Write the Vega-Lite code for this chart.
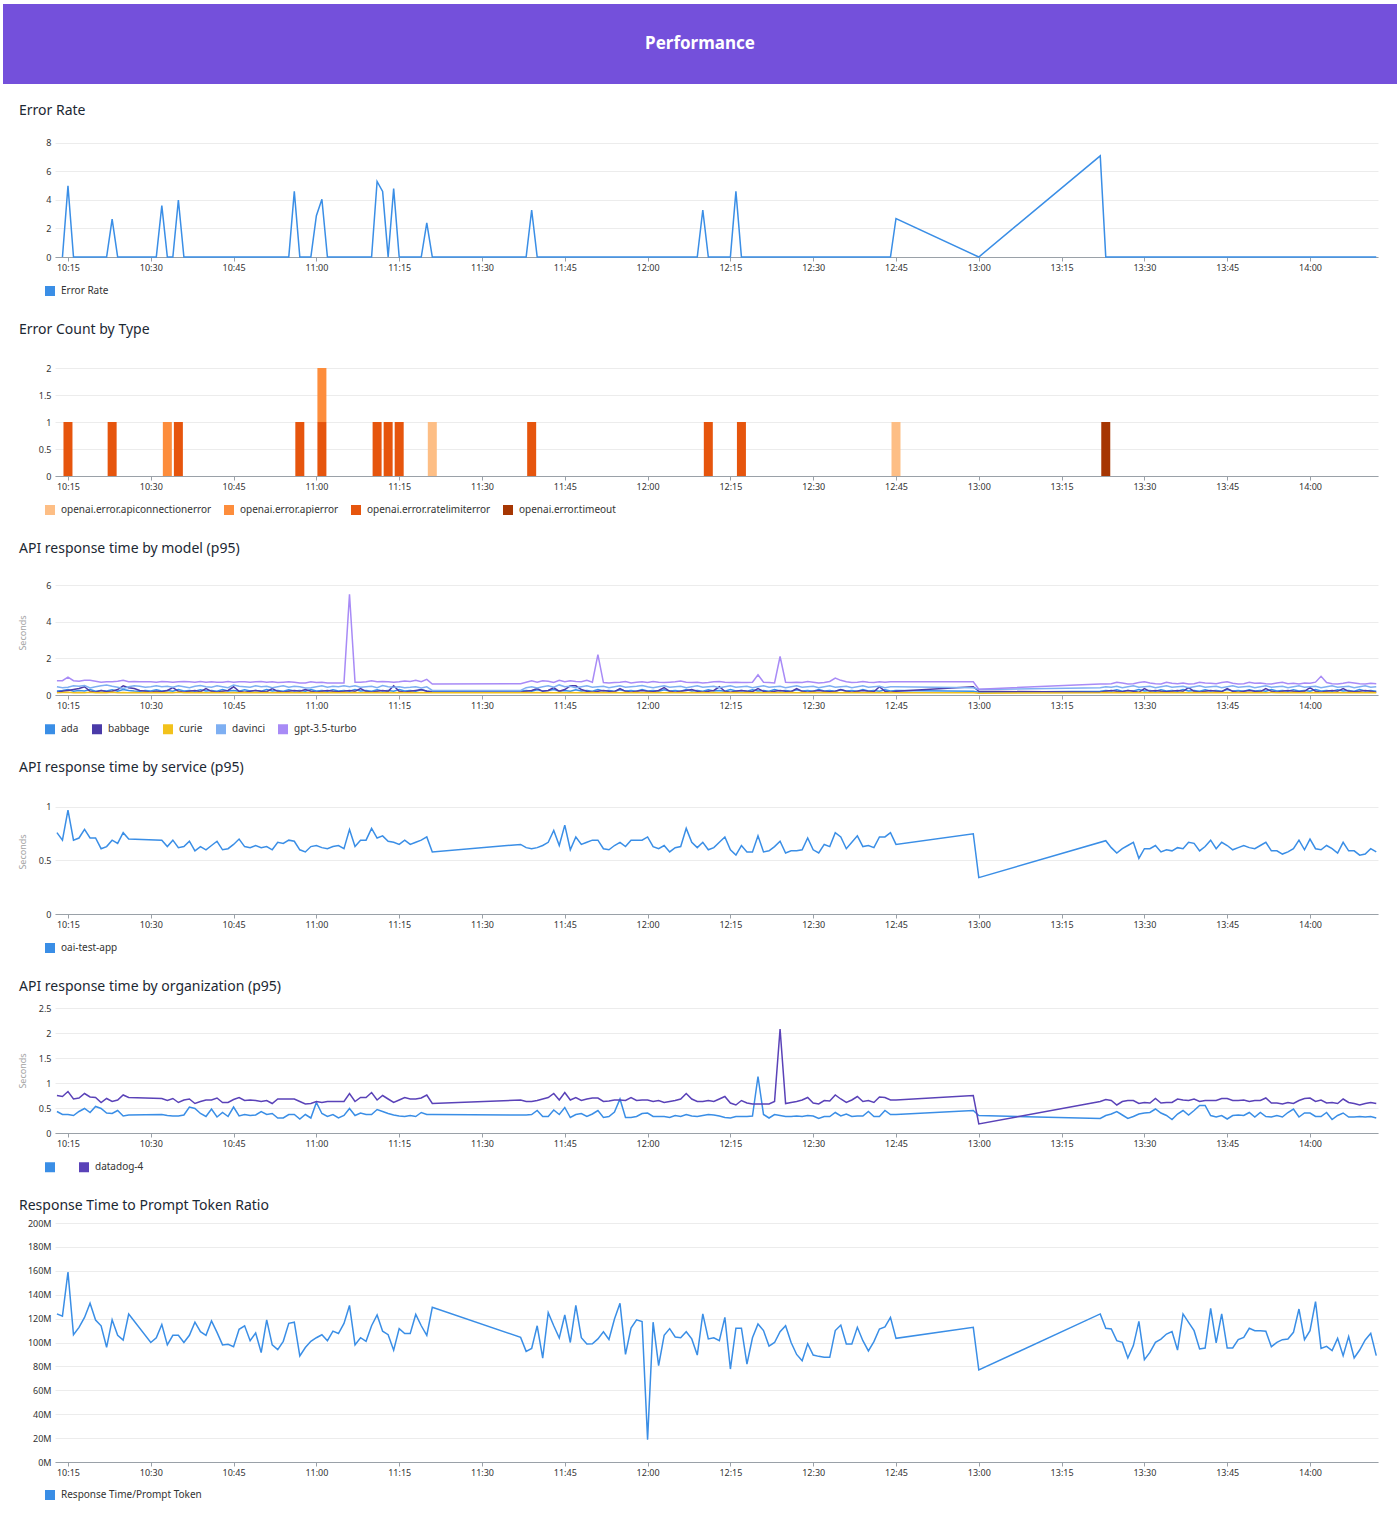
{
"$schema":"https://vega.github.io/schema/vega-lite/v6.json",
"background":"#ffffff",
"padding":{"left":3,"top":4,"right":3,"bottom":6},
"config":{
 "font":"Noto Sans",
 "view":{"stroke":null},
 "title":{"anchor":"start","frame":"group","fontSize":14,"fontWeight":"normal","color":"#1c2833","dx":-36,"offset":14,"baseline":"alphabetic"},
 "axis":{"labelFontSize":9,"labelColor":"#333333","gridColor":"#ececec","domain":false,"ticks":false},
 "axisX":{"domain":true,"domainColor":"#9aa1a8","ticks":true,"tickColor":"#9aa1a8","tickSize":4,"grid":false,"labelPadding":2},
 "axisY":{"labelPadding":4,"grid":true},
 "legend":{"labelFontSize":10,"labelColor":"#333333","symbolType":"square","columnPadding":15,"labelOffset":6,"padding":5}
},
"resolve":{"scale":{"color":"independent","x":"independent","y":"independent"},"legend":{"color":"independent"}},
"spacing":11,
"datasets":{
"er":[
{"t":"10:14","v":0},{"t":"10:15","v":5.0},{"t":"10:16","v":0},{"t":"10:22","v":0},{"t":"10:23","v":2.65},{"t":"10:24","v":0},
{"t":"10:31","v":0},{"t":"10:32","v":3.6},{"t":"10:33","v":0},{"t":"10:34","v":0},{"t":"10:35","v":4.0},{"t":"10:36","v":0},
{"t":"10:55","v":0},{"t":"10:56","v":4.6},{"t":"10:57","v":0},{"t":"10:59","v":0},{"t":"11:00","v":2.9},{"t":"11:01","v":4.05},{"t":"11:02","v":0},
{"t":"11:10","v":0},{"t":"11:11","v":5.3},{"t":"11:12","v":4.6},{"t":"11:13","v":0},{"t":"11:14","v":4.8},{"t":"11:15","v":0},
{"t":"11:19","v":0},{"t":"11:20","v":2.4},{"t":"11:21","v":0},{"t":"11:38","v":0},{"t":"11:39","v":3.3},{"t":"11:40","v":0},
{"t":"12:09","v":0},{"t":"12:10","v":3.3},{"t":"12:11","v":0},{"t":"12:15","v":0},{"t":"12:16","v":4.6},{"t":"12:17","v":0},
{"t":"12:44","v":0},{"t":"12:45","v":2.7},{"t":"13:00","v":0},{"t":"13:22","v":7.1},{"t":"13:23","v":0},{"t":"14:12","v":0}
],
"ec":[
{"t":"10:15","type":"openai.error.ratelimiterror","n":1},
{"t":"10:23","type":"openai.error.ratelimiterror","n":1},
{"t":"10:33","type":"openai.error.apierror","n":1},
{"t":"10:35","type":"openai.error.ratelimiterror","n":1},
{"t":"10:57","type":"openai.error.ratelimiterror","n":1},
{"t":"11:01","type":"openai.error.ratelimiterror","n":1},
{"t":"11:01","type":"openai.error.apierror","n":1},
{"t":"11:11","type":"openai.error.ratelimiterror","n":1},
{"t":"11:13","type":"openai.error.ratelimiterror","n":1},
{"t":"11:15","type":"openai.error.ratelimiterror","n":1},
{"t":"11:21","type":"openai.error.apiconnectionerror","n":1},
{"t":"11:39","type":"openai.error.ratelimiterror","n":1},
{"t":"12:11","type":"openai.error.ratelimiterror","n":1},
{"t":"12:17","type":"openai.error.ratelimiterror","n":1},
{"t":"12:45","type":"openai.error.apiconnectionerror","n":1},
{"t":"13:23","type":"openai.error.timeout","n":1}
],
"svc":[
{"t":"10:13","v":0.76},{"t":"10:14","v":0.69},{"t":"10:15","v":0.97},{"t":"10:16","v":0.69},{"t":"10:17","v":0.71},{"t":"10:18","v":0.79},{"t":"10:19","v":0.71},{"t":"10:20","v":0.71},{"t":"10:21","v":0.61},{"t":"10:22","v":0.63},{"t":"10:23","v":0.69},{"t":"10:24","v":0.66},{"t":"10:25","v":0.76},{"t":"10:26","v":0.70},
{"t":"10:32","v":0.69},{"t":"10:33","v":0.63},{"t":"10:34","v":0.69},{"t":"10:35","v":0.62},{"t":"10:36","v":0.63},{"t":"10:37","v":0.68},{"t":"10:38","v":0.59},{"t":"10:39","v":0.63},{"t":"10:40","v":0.60},{"t":"10:41","v":0.64},{"t":"10:42","v":0.68},{"t":"10:43","v":0.60},{"t":"10:44","v":0.61},{"t":"10:45","v":0.65},{"t":"10:46","v":0.70},{"t":"10:47","v":0.63},{"t":"10:48","v":0.62},{"t":"10:49","v":0.64},{"t":"10:50","v":0.62},{"t":"10:51","v":0.63},{"t":"10:52","v":0.60},{"t":"10:53","v":0.67},{"t":"10:54","v":0.66},{"t":"10:55","v":0.69},{"t":"10:56","v":0.68},{"t":"10:57","v":0.60},{"t":"10:58","v":0.58},{"t":"10:59","v":0.63},
{"t":"11:00","v":0.64},{"t":"11:01","v":0.62},{"t":"11:02","v":0.61},{"t":"11:03","v":0.63},{"t":"11:04","v":0.64},{"t":"11:05","v":0.61},{"t":"11:06","v":0.79},{"t":"11:07","v":0.63},{"t":"11:08","v":0.69},{"t":"11:09","v":0.69},{"t":"11:10","v":0.80},{"t":"11:11","v":0.71},{"t":"11:12","v":0.73},{"t":"11:13","v":0.68},{"t":"11:14","v":0.67},{"t":"11:15","v":0.65},{"t":"11:16","v":0.69},{"t":"11:17","v":0.65},{"t":"11:18","v":0.67},{"t":"11:19","v":0.69},{"t":"11:20","v":0.72},{"t":"11:21","v":0.58},
{"t":"11:37","v":0.65},{"t":"11:38","v":0.62},{"t":"11:39","v":0.61},{"t":"11:40","v":0.62},{"t":"11:41","v":0.64},{"t":"11:42","v":0.67},{"t":"11:43","v":0.78},{"t":"11:44","v":0.64},{"t":"11:45","v":0.83},{"t":"11:46","v":0.60},{"t":"11:47","v":0.72},{"t":"11:48","v":0.65},{"t":"11:49","v":0.67},{"t":"11:50","v":0.69},{"t":"11:51","v":0.69},{"t":"11:52","v":0.61},{"t":"11:53","v":0.60},{"t":"11:54","v":0.64},{"t":"11:55","v":0.67},{"t":"11:56","v":0.63},{"t":"11:57","v":0.69},{"t":"11:58","v":0.69},{"t":"11:59","v":0.69},
{"t":"12:00","v":0.72},{"t":"12:01","v":0.63},{"t":"12:02","v":0.61},{"t":"12:03","v":0.64},{"t":"12:04","v":0.58},{"t":"12:05","v":0.62},{"t":"12:06","v":0.63},{"t":"12:07","v":0.80},{"t":"12:08","v":0.67},{"t":"12:09","v":0.62},{"t":"12:10","v":0.67},{"t":"12:11","v":0.60},{"t":"12:12","v":0.62},{"t":"12:13","v":0.67},{"t":"12:14","v":0.72},{"t":"12:15","v":0.60},{"t":"12:16","v":0.55},{"t":"12:17","v":0.64},{"t":"12:18","v":0.58},{"t":"12:19","v":0.58},{"t":"12:20","v":0.73},{"t":"12:21","v":0.58},{"t":"12:22","v":0.59},{"t":"12:23","v":0.63},{"t":"12:24","v":0.68},{"t":"12:25","v":0.57},{"t":"12:26","v":0.59},{"t":"12:27","v":0.59},{"t":"12:28","v":0.60},{"t":"12:29","v":0.71},{"t":"12:30","v":0.60},{"t":"12:31","v":0.57},{"t":"12:32","v":0.65},{"t":"12:33","v":0.63},{"t":"12:34","v":0.76},{"t":"12:35","v":0.72},{"t":"12:36","v":0.61},{"t":"12:37","v":0.67},{"t":"12:38","v":0.73},{"t":"12:39","v":0.63},{"t":"12:40","v":0.64},{"t":"12:41","v":0.62},{"t":"12:42","v":0.72},{"t":"12:43","v":0.72},{"t":"12:44","v":0.76},{"t":"12:45","v":0.65},
{"t":"12:59","v":0.75},{"t":"13:00","v":0.34},
{"t":"13:23","v":0.685},{"t":"13:24","v":0.62},{"t":"13:25","v":0.57},{"t":"13:26","v":0.61},{"t":"13:27","v":0.64},{"t":"13:28","v":0.67},{"t":"13:29","v":0.52},{"t":"13:30","v":0.61},{"t":"13:31","v":0.61},{"t":"13:32","v":0.64},{"t":"13:33","v":0.58},{"t":"13:34","v":0.60},{"t":"13:35","v":0.59},{"t":"13:36","v":0.62},{"t":"13:37","v":0.61},{"t":"13:38","v":0.67},{"t":"13:39","v":0.66},{"t":"13:40","v":0.59},{"t":"13:41","v":0.63},{"t":"13:42","v":0.69},{"t":"13:43","v":0.61},{"t":"13:44","v":0.67},{"t":"13:45","v":0.64},{"t":"13:46","v":0.60},{"t":"13:47","v":0.62},{"t":"13:48","v":0.64},{"t":"13:49","v":0.62},{"t":"13:50","v":0.61},{"t":"13:51","v":0.64},{"t":"13:52","v":0.67},{"t":"13:53","v":0.59},{"t":"13:54","v":0.59},{"t":"13:55","v":0.56},{"t":"13:56","v":0.58},{"t":"13:57","v":0.61},{"t":"13:58","v":0.69},{"t":"13:59","v":0.60},{"t":"14:00","v":0.70},{"t":"14:01","v":0.61},{"t":"14:02","v":0.60},{"t":"14:03","v":0.64},{"t":"14:04","v":0.61},{"t":"14:05","v":0.57},{"t":"14:06","v":0.67},{"t":"14:07","v":0.59},{"t":"14:08","v":0.59},{"t":"14:09","v":0.55},{"t":"14:10","v":0.56},{"t":"14:11","v":0.61},{"t":"14:12","v":0.58}
],
"ratio":[
{"t":"10:13","v":124e6},{"t":"10:14","v":122e6},{"t":"10:15","v":159e6},{"t":"10:16","v":106.5e6},{"t":"10:17","v":112.7e6},{"t":"10:18","v":121e6},{"t":"10:19","v":132.8e6},{"t":"10:20","v":118.8e6},{"t":"10:21","v":114e6},{"t":"10:22","v":96e6},{"t":"10:23","v":119e6},{"t":"10:24","v":106e6},{"t":"10:25","v":102e6},{"t":"10:26","v":123.8e6},
{"t":"10:30","v":100e6},{"t":"10:31","v":104e6},{"t":"10:32","v":115e6},{"t":"10:33","v":98e6},{"t":"10:34","v":106e6},{"t":"10:35","v":106e6},{"t":"10:36","v":100e6},{"t":"10:37","v":106e6},{"t":"10:38","v":117e6},{"t":"10:39","v":109e6},{"t":"10:40","v":106e6},{"t":"10:41","v":118e6},{"t":"10:42","v":108.5e6},{"t":"10:43","v":98e6},{"t":"10:44","v":98.5e6},{"t":"10:45","v":96.5e6},{"t":"10:46","v":111e6},{"t":"10:47","v":114e6},{"t":"10:48","v":101.5e6},{"t":"10:49","v":108e6},{"t":"10:50","v":91.6e6},{"t":"10:51","v":119e6},{"t":"10:52","v":98e6},{"t":"10:53","v":94e6},{"t":"10:54","v":101e6},{"t":"10:55","v":116e6},{"t":"10:56","v":117e6},{"t":"10:57","v":88.8e6},{"t":"10:58","v":95.8e6},{"t":"10:59","v":101e6},
{"t":"11:00","v":104e6},{"t":"11:01","v":106.5e6},{"t":"11:02","v":101.5e6},{"t":"11:03","v":109.5e6},{"t":"11:04","v":107.5e6},{"t":"11:05","v":116e6},{"t":"11:06","v":131e6},{"t":"11:07","v":98e6},{"t":"11:08","v":104e6},{"t":"11:09","v":101e6},{"t":"11:10","v":114e6},{"t":"11:11","v":123e6},{"t":"11:12","v":109.5e6},{"t":"11:13","v":106.5e6},{"t":"11:14","v":93.5e6},{"t":"11:15","v":111.6e6},{"t":"11:16","v":107.5e6},{"t":"11:17","v":107.5e6},{"t":"11:18","v":123.5e6},{"t":"11:19","v":114e6},{"t":"11:20","v":106e6},{"t":"11:21","v":129.5e6},
{"t":"11:37","v":104.3e6},{"t":"11:38","v":92.6e6},{"t":"11:39","v":95e6},{"t":"11:40","v":114e6},{"t":"11:41","v":87e6},{"t":"11:42","v":125e6},{"t":"11:43","v":114e6},{"t":"11:44","v":103.8e6},{"t":"11:45","v":123e6},{"t":"11:46","v":100e6},{"t":"11:47","v":131e6},{"t":"11:48","v":104e6},{"t":"11:49","v":98.7e6},{"t":"11:50","v":99e6},{"t":"11:51","v":103e6},{"t":"11:52","v":109e6},{"t":"11:53","v":102.5e6},{"t":"11:54","v":119.7e6},{"t":"11:55","v":132.8e6},{"t":"11:56","v":90e6},{"t":"11:57","v":112e6},{"t":"11:58","v":119e6},{"t":"11:59","v":117.5e6},
{"t":"12:00","v":18.7e6},{"t":"12:01","v":117e6},{"t":"12:02","v":80.6e6},{"t":"12:03","v":106e6},{"t":"12:04","v":111.6e6},{"t":"12:05","v":104.6e6},{"t":"12:06","v":104e6},{"t":"12:07","v":109e6},{"t":"12:08","v":103e6},{"t":"12:09","v":89.5e6},{"t":"12:10","v":124e6},{"t":"12:11","v":103e6},{"t":"12:12","v":104e6},{"t":"12:13","v":101.5e6},{"t":"12:14","v":121e6},{"t":"12:15","v":77.8e6},{"t":"12:16","v":112e6},{"t":"12:17","v":112e6},{"t":"12:18","v":82e6},{"t":"12:19","v":104e6},{"t":"12:20","v":115.5e6},{"t":"12:21","v":110e6},{"t":"12:22","v":97e6},{"t":"12:23","v":100e6},{"t":"12:24","v":109e6},{"t":"12:25","v":114e6},{"t":"12:26","v":100e6},{"t":"12:27","v":90e6},{"t":"12:28","v":84.8e6},{"t":"12:29","v":99e6},{"t":"12:30","v":89.5e6},{"t":"12:31","v":88.4e6},{"t":"12:32","v":87.6e6},{"t":"12:33","v":87.6e6},{"t":"12:34","v":110e6},{"t":"12:35","v":114.6e6},{"t":"12:36","v":98.8e6},{"t":"12:37","v":98.8e6},{"t":"12:38","v":112.7e6},{"t":"12:39","v":101.5e6},{"t":"12:40","v":93e6},{"t":"12:41","v":100.7e6},{"t":"12:42","v":111.3e6},{"t":"12:43","v":113e6},{"t":"12:44","v":121e6},{"t":"12:45","v":103.5e6},
{"t":"12:59","v":112.7e6},{"t":"13:00","v":77e6},
{"t":"13:22","v":123.9e6},{"t":"13:23","v":111.9e6},{"t":"13:24","v":111.3e6},{"t":"13:25","v":101.6e6},{"t":"13:26","v":100.1e6},{"t":"13:27","v":87e6},{"t":"13:28","v":97.4e6},{"t":"13:29","v":117.7e6},{"t":"13:30","v":85.6e6},{"t":"13:31","v":91.7e6},{"t":"13:32","v":100.1e6},{"t":"13:33","v":102.9e6},{"t":"13:34","v":107.1e6},{"t":"13:35","v":109.1e6},{"t":"13:36","v":93.7e6},{"t":"13:37","v":123.9e6},{"t":"13:38","v":116.9e6},{"t":"13:39","v":109.9e6},{"t":"13:40","v":94.6e6},{"t":"13:41","v":95.4e6},{"t":"13:42","v":128.6e6},{"t":"13:43","v":99.6e6},{"t":"13:44","v":123.9e6},{"t":"13:45","v":95.4e6},{"t":"13:46","v":95.4e6},{"t":"13:47","v":102.4e6},{"t":"13:48","v":104.3e6},{"t":"13:49","v":111.9e6},{"t":"13:50","v":109.9e6},{"t":"13:51","v":109.9e6},{"t":"13:52","v":109.4e6},{"t":"13:53","v":96.5e6},{"t":"13:54","v":100.1e6},{"t":"13:55","v":102.4e6},{"t":"13:56","v":102.9e6},{"t":"13:57","v":108.5e6},{"t":"13:58","v":128e6},{"t":"13:59","v":102.4e6},{"t":"14:00","v":109.9e6},{"t":"14:01","v":134.2e6},{"t":"14:02","v":95.1e6},{"t":"14:03","v":96.8e6},{"t":"14:04","v":93.2e6},{"t":"14:05","v":103.5e6},{"t":"14:06","v":89e6},{"t":"14:07","v":104.9e6},{"t":"14:08","v":87e6},{"t":"14:09","v":93.7e6},{"t":"14:10","v":102.1e6},{"t":"14:11","v":107.7e6},{"t":"14:12","v":89e6}
],
"org":[
{"t":"10:13","ob":0.43,"op":0.75},{"t":"10:14","ob":0.37,"op":0.73},{"t":"10:15","ob":0.37,"op":0.83},{"t":"10:16","ob":0.35,"op":0.68},{"t":"10:17","ob":0.43,"op":0.70},{"t":"10:18","ob":0.49,"op":0.79},{"t":"10:19","ob":0.41,"op":0.72},{"t":"10:20","ob":0.53,"op":0.71},{"t":"10:21","ob":0.49,"op":0.61},{"t":"10:22","ob":0.40,"op":0.69},{"t":"10:23","ob":0.39,"op":0.63},{"t":"10:24","ob":0.45,"op":0.66},{"t":"10:25","ob":0.34,"op":0.76},{"t":"10:26","ob":0.36,"op":0.71},
{"t":"10:32","ob":0.37,"op":0.69},{"t":"10:33","ob":0.35,"op":0.65},{"t":"10:34","ob":0.34,"op":0.69},{"t":"10:35","ob":0.34,"op":0.61},{"t":"10:36","ob":0.36,"op":0.66},{"t":"10:37","ob":0.52,"op":0.68},{"t":"10:38","ob":0.49,"op":0.59},{"t":"10:39","ob":0.39,"op":0.63},{"t":"10:40","ob":0.33,"op":0.66},{"t":"10:41","ob":0.48,"op":0.66},{"t":"10:42","ob":0.32,"op":0.70},{"t":"10:43","ob":0.41,"op":0.61},{"t":"10:44","ob":0.33,"op":0.61},{"t":"10:45","ob":0.52,"op":0.67},{"t":"10:46","ob":0.34,"op":0.71},{"t":"10:47","ob":0.37,"op":0.65},{"t":"10:48","ob":0.35,"op":0.66},{"t":"10:49","ob":0.36,"op":0.65},{"t":"10:50","ob":0.43,"op":0.63},{"t":"10:51","ob":0.37,"op":0.65},{"t":"10:52","ob":0.39,"op":0.59},{"t":"10:53","ob":0.30,"op":0.68},{"t":"10:54","ob":0.30,"op":0.68},{"t":"10:55","ob":0.37,"op":0.68},{"t":"10:56","ob":0.37,"op":0.68},{"t":"10:57","ob":0.28,"op":0.63},{"t":"10:58","ob":0.37,"op":0.58},{"t":"10:59","ob":0.30,"op":0.59},
{"t":"11:00","ob":0.61,"op":0.63},{"t":"11:01","ob":0.39,"op":0.61},{"t":"11:02","ob":0.33,"op":0.63},{"t":"11:03","ob":0.37,"op":0.63},{"t":"11:04","ob":0.30,"op":0.63},{"t":"11:05","ob":0.35,"op":0.63},{"t":"11:06","ob":0.49,"op":0.79},{"t":"11:07","ob":0.35,"op":0.63},{"t":"11:08","ob":0.40,"op":0.71},{"t":"11:09","ob":0.37,"op":0.71},{"t":"11:10","ob":0.37,"op":0.81},{"t":"11:11","ob":0.47,"op":0.66},{"t":"11:12","ob":0.43,"op":0.75},{"t":"11:13","ob":0.39,"op":0.68},{"t":"11:14","ob":0.36,"op":0.61},{"t":"11:15","ob":0.34,"op":0.66},{"t":"11:16","ob":0.33,"op":0.71},{"t":"11:17","ob":0.35,"op":0.68},{"t":"11:18","ob":0.33,"op":0.68},{"t":"11:19","ob":0.41,"op":0.70},{"t":"11:20","ob":0.37,"op":0.76},{"t":"11:21","ob":0.37,"op":0.59},
{"t":"11:37","ob":0.36,"op":0.66},{"t":"11:38","ob":0.36,"op":0.63},{"t":"11:39","ob":0.37,"op":0.63},{"t":"11:40","ob":0.45,"op":0.65},{"t":"11:41","ob":0.33,"op":0.68},{"t":"11:42","ob":0.33,"op":0.71},{"t":"11:43","ob":0.46,"op":0.79},{"t":"11:44","ob":0.37,"op":0.66},{"t":"11:45","ob":0.51,"op":0.81},{"t":"11:46","ob":0.31,"op":0.66},{"t":"11:47","ob":0.37,"op":0.71},{"t":"11:48","ob":0.39,"op":0.65},{"t":"11:49","ob":0.33,"op":0.68},{"t":"11:50","ob":0.38,"op":0.70},{"t":"11:51","ob":0.45,"op":0.70},{"t":"11:52","ob":0.31,"op":0.63},{"t":"11:53","ob":0.33,"op":0.64},{"t":"11:54","ob":0.42,"op":0.66},{"t":"11:55","ob":0.68,"op":0.66},{"t":"11:56","ob":0.31,"op":0.65},{"t":"11:57","ob":0.31,"op":0.71},{"t":"11:58","ob":0.33,"op":0.65},{"t":"11:59","ob":0.39,"op":0.66},
{"t":"12:00","ob":0.40,"op":0.66},{"t":"12:01","ob":0.33,"op":0.63},{"t":"12:02","ob":0.33,"op":0.65},{"t":"12:03","ob":0.33,"op":0.61},{"t":"12:04","ob":0.31,"op":0.63},{"t":"12:05","ob":0.35,"op":0.65},{"t":"12:06","ob":0.33,"op":0.68},{"t":"12:07","ob":0.37,"op":0.79},{"t":"12:08","ob":0.34,"op":0.68},{"t":"12:09","ob":0.33,"op":0.63},{"t":"12:10","ob":0.35,"op":0.63},{"t":"12:11","ob":0.37,"op":0.65},{"t":"12:12","ob":0.36,"op":0.63},{"t":"12:13","ob":0.34,"op":0.68},{"t":"12:14","ob":0.31,"op":0.73},{"t":"12:15","ob":0.30,"op":0.60},{"t":"12:16","ob":0.33,"op":0.56},{"t":"12:17","ob":0.33,"op":0.65},{"t":"12:18","ob":0.33,"op":0.60},{"t":"12:19","ob":0.34,"op":0.58},{"t":"12:20","ob":1.13,"op":0.58},{"t":"12:21","ob":0.37,"op":0.58},{"t":"12:22","ob":0.30,"op":0.58},{"t":"12:23","ob":0.37,"op":0.63},{"t":"12:24","ob":0.35,"op":2.08},{"t":"12:25","ob":0.33,"op":0.59},{"t":"12:26","ob":0.33,"op":0.61},{"t":"12:27","ob":0.34,"op":0.63},{"t":"12:28","ob":0.33,"op":0.66},{"t":"12:29","ob":0.35,"op":0.71},{"t":"12:30","ob":0.34,"op":0.60},{"t":"12:31","ob":0.29,"op":0.58},{"t":"12:32","ob":0.33,"op":0.65},{"t":"12:33","ob":0.33,"op":0.64},{"t":"12:34","ob":0.41,"op":0.76},{"t":"12:35","ob":0.34,"op":0.68},{"t":"12:36","ob":0.38,"op":0.61},{"t":"12:37","ob":0.33,"op":0.66},{"t":"12:38","ob":0.34,"op":0.73},{"t":"12:39","ob":0.34,"op":0.63},{"t":"12:40","ob":0.43,"op":0.65},{"t":"12:41","ob":0.33,"op":0.61},{"t":"12:42","ob":0.33,"op":0.72},{"t":"12:43","ob":0.45,"op":0.71},{"t":"12:44","ob":0.37,"op":0.66},{"t":"12:45","ob":0.37,"op":0.66},
{"t":"12:59","ob":0.45,"op":0.75},{"t":"13:00","ob":0.35,"op":0.18},
{"t":"13:22","ob":0.29,"op":0.63},{"t":"13:23","ob":0.35,"op":0.67},{"t":"13:24","ob":0.38,"op":0.65},{"t":"13:25","ob":0.43,"op":0.56},{"t":"13:26","ob":0.36,"op":0.63},{"t":"13:27","ob":0.29,"op":0.65},{"t":"13:28","ob":0.33,"op":0.65},{"t":"13:29","ob":0.38,"op":0.59},{"t":"13:30","ob":0.40,"op":0.61},{"t":"13:31","ob":0.41,"op":0.60},{"t":"13:32","ob":0.48,"op":0.69},{"t":"13:33","ob":0.40,"op":0.60},{"t":"13:34","ob":0.35,"op":0.61},{"t":"13:35","ob":0.27,"op":0.61},{"t":"13:36","ob":0.38,"op":0.68},{"t":"13:37","ob":0.45,"op":0.66},{"t":"13:38","ob":0.36,"op":0.65},{"t":"13:39","ob":0.45,"op":0.68},{"t":"13:40","ob":0.55,"op":0.63},{"t":"13:41","ob":0.55,"op":0.65},{"t":"13:42","ob":0.35,"op":0.65},{"t":"13:43","ob":0.32,"op":0.65},{"t":"13:44","ob":0.35,"op":0.69},{"t":"13:45","ob":0.28,"op":0.69},{"t":"13:46","ob":0.35,"op":0.65},{"t":"13:47","ob":0.36,"op":0.65},{"t":"13:48","ob":0.35,"op":0.66},{"t":"13:49","ob":0.41,"op":0.63},{"t":"13:50","ob":0.32,"op":0.65},{"t":"13:51","ob":0.41,"op":0.65},{"t":"13:52","ob":0.33,"op":0.70},{"t":"13:53","ob":0.32,"op":0.60},{"t":"13:54","ob":0.35,"op":0.60},{"t":"13:55","ob":0.32,"op":0.58},{"t":"13:56","ob":0.41,"op":0.61},{"t":"13:57","ob":0.48,"op":0.59},{"t":"13:58","ob":0.32,"op":0.65},{"t":"13:59","ob":0.40,"op":0.69},{"t":"14:00","ob":0.40,"op":0.70},{"t":"14:01","ob":0.33,"op":0.63},{"t":"14:02","ob":0.33,"op":0.66},{"t":"14:03","ob":0.41,"op":0.60},{"t":"14:04","ob":0.27,"op":0.61},{"t":"14:05","ob":0.35,"op":0.59},{"t":"14:06","ob":0.40,"op":0.68},{"t":"14:07","ob":0.32,"op":0.61},{"t":"14:08","ob":0.32,"op":0.59},{"t":"14:09","ob":0.33,"op":0.56},{"t":"14:10","ob":0.32,"op":0.59},{"t":"14:11","ob":0.33,"op":0.61},{"t":"14:12","ob":0.30,"op":0.59}
],
"model":[
{"t":"10:13","a":0.22,"b":0.15,"c":0.12,"d":0.45,"g":0.78},{"t":"10:14","a":0.25,"b":0.2,"c":0.13,"d":0.4,"g":0.78},{"t":"10:15","a":0.3,"b":0.25,"c":0.15,"d":0.42,"g":0.98},{"t":"10:16","a":0.2,"b":0.3,"c":0.12,"d":0.5,"g":0.78},{"t":"10:17","a":0.25,"b":0.35,"c":0.14,"d":0.48,"g":0.75},{"t":"10:18","a":0.22,"b":0.45,"c":0.12,"d":0.52,"g":0.8},{"t":"10:19","a":0.3,"b":0.2,"c":0.15,"d":0.38,"g":0.8},{"t":"10:20","a":0.2,"b":0.15,"c":0.12,"d":0.45,"g":0.75},{"t":"10:21","a":0.25,"b":0.25,"c":0.13,"d":0.5,"g":0.7},{"t":"10:22","a":0.22,"b":0.18,"c":0.12,"d":0.55,"g":0.72},{"t":"10:23","a":0.28,"b":0.2,"c":0.15,"d":0.48,"g":0.72},{"t":"10:24","a":0.2,"b":0.3,"c":0.12,"d":0.42,"g":0.75},{"t":"10:25","a":0.3,"b":0.5,"c":0.14,"d":0.35,"g":0.8},{"t":"10:26","a":0.25,"b":0.4,"c":0.12,"d":0.45,"g":0.72},{"t":"10:27","a":0.22,"b":0.35,"c":0.13,"d":0.5,"g":0.74},{"t":"10:28","a":0.2,"b":0.25,"c":0.12,"d":0.48,"g":0.72},{"t":"10:29","a":0.25,"b":0.2,"c":0.14,"d":0.42,"g":0.72},{"t":"10:30","a":0.22,"b":0.15,"c":0.12,"d":0.45,"g":0.72},{"t":"10:31","a":0.28,"b":0.2,"c":0.13,"d":0.5,"g":0.7},{"t":"10:32","a":0.22,"b":0.18,"c":0.12,"d":0.45,"g":0.74},{"t":"10:33","a":0.25,"b":0.25,"c":0.14,"d":0.48,"g":0.72},{"t":"10:34","a":0.2,"b":0.4,"c":0.12,"d":0.42,"g":0.7},{"t":"10:35","a":0.3,"b":0.2,"c":0.15,"d":0.5,"g":0.72},{"t":"10:36","a":0.22,"b":0.15,"c":0.12,"d":0.45,"g":0.74},{"t":"10:37","a":0.25,"b":0.2,"c":0.13,"d":0.4,"g":0.72},{"t":"10:38","a":0.2,"b":0.25,"c":0.12,"d":0.48,"g":0.7},{"t":"10:39","a":0.28,"b":0.18,"c":0.14,"d":0.52,"g":0.74},{"t":"10:40","a":0.22,"b":0.35,"c":0.12,"d":0.45,"g":0.7},{"t":"10:41","a":0.25,"b":0.2,"c":0.13,"d":0.42,"g":0.72},{"t":"10:42","a":0.2,"b":0.15,"c":0.12,"d":0.5,"g":0.7},{"t":"10:43","a":0.3,"b":0.2,"c":0.14,"d":0.45,"g":0.7},{"t":"10:44","a":0.22,"b":0.25,"c":0.12,"d":0.4,"g":0.74},{"t":"10:45","a":0.25,"b":0.45,"c":0.13,"d":0.55,"g":0.7},{"t":"10:46","a":0.2,"b":0.2,"c":0.12,"d":0.48,"g":0.72},{"t":"10:47","a":0.28,"b":0.15,"c":0.14,"d":0.45,"g":0.72},{"t":"10:48","a":0.22,"b":0.2,"c":0.12,"d":0.42,"g":0.7},{"t":"10:49","a":0.25,"b":0.25,"c":0.13,"d":0.5,"g":0.72},{"t":"10:50","a":0.2,"b":0.2,"c":0.12,"d":0.45,"g":0.74},{"t":"10:51","a":0.3,"b":0.18,"c":0.14,"d":0.48,"g":0.7},{"t":"10:52","a":0.22,"b":0.35,"c":0.12,"d":0.4,"g":0.72},{"t":"10:53","a":0.25,"b":0.2,"c":0.13,"d":0.45,"g":0.68},{"t":"10:54","a":0.2,"b":0.15,"c":0.12,"d":0.5,"g":0.7},{"t":"10:55","a":0.28,"b":0.2,"c":0.14,"d":0.42,"g":0.72},{"t":"10:56","a":0.22,"b":0.25,"c":0.12,"d":0.48,"g":0.7},{"t":"10:57","a":0.25,"b":0.2,"c":0.13,"d":0.45,"g":0.66},{"t":"10:58","a":0.2,"b":0.3,"c":0.12,"d":0.38,"g":0.65},{"t":"10:59","a":0.3,"b":0.2,"c":0.14,"d":0.4,"g":0.72},
{"t":"11:00","a":0.22,"b":0.15,"c":0.12,"d":0.45,"g":0.68},{"t":"11:01","a":0.25,"b":0.2,"c":0.13,"d":0.5,"g":0.7},{"t":"11:02","a":0.2,"b":0.25,"c":0.12,"d":0.42,"g":0.66},{"t":"11:03","a":0.28,"b":0.2,"c":0.14,"d":0.48,"g":0.66},{"t":"11:04","a":0.22,"b":0.18,"c":0.12,"d":0.45,"g":0.66},{"t":"11:05","a":0.25,"b":0.2,"c":0.13,"d":0.5,"g":0.66},{"t":"11:06","a":0.2,"b":0.25,"c":0.12,"d":0.45,"g":5.5},{"t":"11:07","a":0.3,"b":0.2,"c":0.14,"d":0.5,"g":0.7},{"t":"11:08","a":0.22,"b":0.35,"c":0.12,"d":0.42,"g":0.7},{"t":"11:09","a":0.25,"b":0.2,"c":0.13,"d":0.45,"g":0.72},{"t":"11:10","a":0.2,"b":0.15,"c":0.12,"d":0.48,"g":0.78},{"t":"11:11","a":0.28,"b":0.2,"c":0.14,"d":0.4,"g":0.72},{"t":"11:12","a":0.22,"b":0.25,"c":0.12,"d":0.52,"g":0.74},{"t":"11:13","a":0.25,"b":0.2,"c":0.13,"d":0.45,"g":0.72},{"t":"11:14","a":0.2,"b":0.5,"c":0.12,"d":0.42,"g":0.7},{"t":"11:15","a":0.3,"b":0.2,"c":0.14,"d":0.45,"g":0.72},{"t":"11:16","a":0.22,"b":0.15,"c":0.12,"d":0.4,"g":0.76},{"t":"11:17","a":0.25,"b":0.2,"c":0.13,"d":0.42,"g":0.74},{"t":"11:18","a":0.2,"b":0.25,"c":0.12,"d":0.45,"g":0.8},{"t":"11:19","a":0.28,"b":0.3,"c":0.14,"d":0.38,"g":0.72},{"t":"11:20","a":0.22,"b":0.2,"c":0.12,"d":0.45,"g":0.85},{"t":"11:21","a":0.2,"b":0.15,"c":0.12,"d":0.25,"g":0.6},
{"t":"11:37","a":0.22,"b":0.15,"c":0.12,"d":0.25,"g":0.62},{"t":"11:38","a":0.25,"b":0.2,"c":0.14,"d":0.4,"g":0.7},{"t":"11:39","a":0.2,"b":0.25,"c":0.12,"d":0.45,"g":0.78},{"t":"11:40","a":0.28,"b":0.35,"c":0.13,"d":0.38,"g":0.7},{"t":"11:41","a":0.22,"b":0.2,"c":0.12,"d":0.45,"g":0.78},{"t":"11:42","a":0.25,"b":0.25,"c":0.14,"d":0.5,"g":0.75},{"t":"11:43","a":0.3,"b":0.4,"c":0.12,"d":0.42,"g":0.68},{"t":"11:44","a":0.22,"b":0.2,"c":0.13,"d":0.55,"g":0.8},{"t":"11:45","a":0.25,"b":0.3,"c":0.12,"d":0.45,"g":0.72},{"t":"11:46","a":0.2,"b":0.5,"c":0.14,"d":0.48,"g":0.78},{"t":"11:47","a":0.28,"b":0.5,"c":0.12,"d":0.4,"g":0.74},{"t":"11:48","a":0.22,"b":0.3,"c":0.13,"d":0.45,"g":0.72},{"t":"11:49","a":0.25,"b":0.2,"c":0.12,"d":0.5,"g":0.8},{"t":"11:50","a":0.2,"b":0.15,"c":0.14,"d":0.42,"g":0.7},{"t":"11:51","a":0.3,"b":0.2,"c":0.12,"d":0.45,"g":2.2},{"t":"11:52","a":0.22,"b":0.25,"c":0.13,"d":0.48,"g":0.68},{"t":"11:53","a":0.25,"b":0.2,"c":0.12,"d":0.4,"g":0.65},{"t":"11:54","a":0.2,"b":0.18,"c":0.14,"d":0.45,"g":0.68},{"t":"11:55","a":0.28,"b":0.35,"c":0.12,"d":0.5,"g":0.7},{"t":"11:56","a":0.22,"b":0.2,"c":0.13,"d":0.42,"g":0.74},{"t":"11:57","a":0.25,"b":0.15,"c":0.12,"d":0.45,"g":0.66},{"t":"11:58","a":0.2,"b":0.2,"c":0.14,"d":0.48,"g":0.7},{"t":"11:59","a":0.3,"b":0.25,"c":0.12,"d":0.52,"g":0.72},
{"t":"12:00","a":0.22,"b":0.2,"c":0.13,"d":0.45,"g":0.68},{"t":"12:01","a":0.25,"b":0.18,"c":0.12,"d":0.4,"g":0.74},{"t":"12:02","a":0.2,"b":0.25,"c":0.14,"d":0.45,"g":0.7},{"t":"12:03","a":0.28,"b":0.4,"c":0.12,"d":0.5,"g":0.68},{"t":"12:04","a":0.22,"b":0.2,"c":0.13,"d":0.42,"g":0.7},{"t":"12:05","a":0.25,"b":0.15,"c":0.12,"d":0.45,"g":0.72},{"t":"12:06","a":0.2,"b":0.2,"c":0.14,"d":0.48,"g":0.76},{"t":"12:07","a":0.3,"b":0.25,"c":0.12,"d":0.4,"g":0.7},{"t":"12:08","a":0.22,"b":0.3,"c":0.13,"d":0.45,"g":0.68},{"t":"12:09","a":0.25,"b":0.2,"c":0.12,"d":0.5,"g":0.7},{"t":"12:10","a":0.2,"b":0.15,"c":0.14,"d":0.42,"g":0.66},{"t":"12:11","a":0.28,"b":0.2,"c":0.12,"d":0.45,"g":0.68},{"t":"12:12","a":0.22,"b":0.25,"c":0.13,"d":0.48,"g":0.72},{"t":"12:13","a":0.25,"b":0.45,"c":0.12,"d":0.4,"g":0.74},{"t":"12:14","a":0.2,"b":0.2,"c":0.14,"d":0.45,"g":0.7},{"t":"12:15","a":0.3,"b":0.15,"c":0.12,"d":0.5,"g":0.68},{"t":"12:16","a":0.22,"b":0.2,"c":0.13,"d":0.42,"g":0.7},{"t":"12:17","a":0.25,"b":0.25,"c":0.12,"d":0.45,"g":0.68},{"t":"12:18","a":0.2,"b":0.2,"c":0.14,"d":0.48,"g":0.68},{"t":"12:19","a":0.28,"b":0.18,"c":0.12,"d":0.4,"g":0.7},{"t":"12:20","a":0.22,"b":0.35,"c":0.13,"d":0.45,"g":1.1},{"t":"12:21","a":0.25,"b":0.2,"c":0.12,"d":0.5,"g":0.7},{"t":"12:22","a":0.2,"b":0.15,"c":0.14,"d":0.42,"g":0.68},{"t":"12:23","a":0.3,"b":0.2,"c":0.12,"d":0.45,"g":0.66},{"t":"12:24","a":0.22,"b":0.25,"c":0.13,"d":0.48,"g":2.1},{"t":"12:25","a":0.25,"b":0.2,"c":0.12,"d":0.4,"g":0.7},{"t":"12:26","a":0.2,"b":0.18,"c":0.14,"d":0.45,"g":0.68},{"t":"12:27","a":0.28,"b":0.35,"c":0.12,"d":0.5,"g":0.7},{"t":"12:28","a":0.22,"b":0.2,"c":0.13,"d":0.42,"g":0.68},{"t":"12:29","a":0.25,"b":0.15,"c":0.12,"d":0.45,"g":0.74},{"t":"12:30","a":0.2,"b":0.2,"c":0.14,"d":0.48,"g":0.7},{"t":"12:31","a":0.3,"b":0.25,"c":0.12,"d":0.4,"g":0.66},{"t":"12:32","a":0.22,"b":0.2,"c":0.13,"d":0.45,"g":0.68},{"t":"12:33","a":0.25,"b":0.18,"c":0.12,"d":0.5,"g":0.74},{"t":"12:34","a":0.2,"b":0.2,"c":0.14,"d":0.42,"g":0.92},{"t":"12:35","a":0.28,"b":0.3,"c":0.12,"d":0.45,"g":0.8},{"t":"12:36","a":0.22,"b":0.2,"c":0.13,"d":0.48,"g":0.72},{"t":"12:37","a":0.25,"b":0.15,"c":0.12,"d":0.4,"g":0.68},{"t":"12:38","a":0.2,"b":0.2,"c":0.14,"d":0.45,"g":0.7},{"t":"12:39","a":0.3,"b":0.25,"c":0.12,"d":0.5,"g":0.74},{"t":"12:40","a":0.22,"b":0.2,"c":0.13,"d":0.42,"g":0.7},{"t":"12:41","a":0.25,"b":0.18,"c":0.12,"d":0.45,"g":0.68},{"t":"12:42","a":0.2,"b":0.45,"c":0.14,"d":0.48,"g":0.72},{"t":"12:43","a":0.28,"b":0.2,"c":0.12,"d":0.4,"g":0.7},{"t":"12:44","a":0.22,"b":0.15,"c":0.13,"d":0.45,"g":0.72},{"t":"12:45","a":0.25,"b":0.2,"c":0.12,"d":0.45,"g":0.72},
{"t":"12:59","a":0.2,"b":0.45,"c":0.12,"d":0.4,"g":0.72},{"t":"13:00","a":0.15,"b":0.2,"c":0.1,"d":0.3,"g":0.32},
{"t":"13:22","a":0.2,"b":0.15,"c":0.12,"d":0.4,"g":0.6},{"t":"13:23","a":0.25,"b":0.2,"c":0.13,"d":0.45,"g":0.6},{"t":"13:24","a":0.22,"b":0.25,"c":0.12,"d":0.42,"g":0.62},{"t":"13:25","a":0.28,"b":0.2,"c":0.14,"d":0.48,"g":0.7},{"t":"13:26","a":0.2,"b":0.18,"c":0.12,"d":0.4,"g":0.65},{"t":"13:27","a":0.25,"b":0.25,"c":0.13,"d":0.45,"g":0.6},{"t":"13:28","a":0.22,"b":0.2,"c":0.12,"d":0.5,"g":0.62},{"t":"13:29","a":0.3,"b":0.15,"c":0.14,"d":0.42,"g":0.68},{"t":"13:30","a":0.22,"b":0.35,"c":0.12,"d":0.45,"g":0.72},{"t":"13:31","a":0.25,"b":0.2,"c":0.13,"d":0.48,"g":0.66},{"t":"13:32","a":0.2,"b":0.25,"c":0.12,"d":0.4,"g":0.62},{"t":"13:33","a":0.28,"b":0.2,"c":0.14,"d":0.45,"g":0.6},{"t":"13:34","a":0.22,"b":0.18,"c":0.12,"d":0.5,"g":0.7},{"t":"13:35","a":0.25,"b":0.2,"c":0.13,"d":0.42,"g":0.64},{"t":"13:36","a":0.2,"b":0.25,"c":0.12,"d":0.45,"g":0.62},{"t":"13:37","a":0.3,"b":0.2,"c":0.14,"d":0.48,"g":0.66},{"t":"13:38","a":0.22,"b":0.4,"c":0.12,"d":0.4,"g":0.6},{"t":"13:39","a":0.25,"b":0.2,"c":0.13,"d":0.45,"g":0.62},{"t":"13:40","a":0.2,"b":0.15,"c":0.12,"d":0.5,"g":0.7},{"t":"13:41","a":0.28,"b":0.2,"c":0.14,"d":0.42,"g":0.66},{"t":"13:42","a":0.22,"b":0.25,"c":0.12,"d":0.45,"g":0.64},{"t":"13:43","a":0.25,"b":0.2,"c":0.13,"d":0.48,"g":0.62},{"t":"13:44","a":0.2,"b":0.18,"c":0.12,"d":0.4,"g":0.68},{"t":"13:45","a":0.3,"b":0.35,"c":0.14,"d":0.45,"g":0.72},{"t":"13:46","a":0.22,"b":0.2,"c":0.12,"d":0.5,"g":0.64},{"t":"13:47","a":0.25,"b":0.15,"c":0.13,"d":0.42,"g":0.6},{"t":"13:48","a":0.2,"b":0.2,"c":0.12,"d":0.45,"g":0.62},{"t":"13:49","a":0.28,"b":0.25,"c":0.14,"d":0.48,"g":0.7},{"t":"13:50","a":0.22,"b":0.2,"c":0.12,"d":0.4,"g":0.64},{"t":"13:51","a":0.25,"b":0.18,"c":0.13,"d":0.45,"g":0.66},{"t":"13:52","a":0.2,"b":0.35,"c":0.12,"d":0.5,"g":0.62},{"t":"13:53","a":0.3,"b":0.2,"c":0.14,"d":0.42,"g":0.6},{"t":"13:54","a":0.22,"b":0.15,"c":0.12,"d":0.45,"g":0.66},{"t":"13:55","a":0.25,"b":0.2,"c":0.13,"d":0.48,"g":0.7},{"t":"13:56","a":0.2,"b":0.25,"c":0.12,"d":0.4,"g":0.62},{"t":"13:57","a":0.28,"b":0.2,"c":0.14,"d":0.45,"g":0.64},{"t":"13:58","a":0.22,"b":0.18,"c":0.12,"d":0.5,"g":0.6},{"t":"13:59","a":0.25,"b":0.2,"c":0.13,"d":0.42,"g":0.66},{"t":"14:00","a":0.2,"b":0.4,"c":0.12,"d":0.45,"g":0.64},{"t":"14:01","a":0.3,"b":0.2,"c":0.14,"d":0.48,"g":0.7},{"t":"14:02","a":0.22,"b":0.15,"c":0.12,"d":0.4,"g":1.02},{"t":"14:03","a":0.25,"b":0.2,"c":0.13,"d":0.45,"g":0.68},{"t":"14:04","a":0.2,"b":0.25,"c":0.12,"d":0.5,"g":0.62},{"t":"14:05","a":0.28,"b":0.2,"c":0.14,"d":0.42,"g":0.6},{"t":"14:06","a":0.22,"b":0.35,"c":0.12,"d":0.45,"g":0.64},{"t":"14:07","a":0.25,"b":0.2,"c":0.13,"d":0.48,"g":0.7},{"t":"14:08","a":0.2,"b":0.18,"c":0.12,"d":0.4,"g":0.66},{"t":"14:09","a":0.3,"b":0.2,"c":0.14,"d":0.45,"g":0.62},{"t":"14:10","a":0.22,"b":0.25,"c":0.12,"d":0.5,"g":0.6},{"t":"14:11","a":0.25,"b":0.2,"c":0.13,"d":0.42,"g":0.64},{"t":"14:12","a":0.2,"b":0.15,"c":0.12,"d":0.45,"g":0.62}
]
},
"vconcat":[
{
 "width":1342,"height":80,
 "view":{"fill":"#7450db","stroke":null},
 "data":{"values":[{"label":"Performance"}]},
 "mark":{"type":"text","color":"#ffffff","fontSize":17,"fontWeight":"bold","dx":-26},
 "encoding":{
  "text":{"field":"label"},
  "x":{"field":"label","type":"nominal","axis":{"title":".","titleColor":"#ffffff","titleFontSize":8,"titlePadding":1,"labels":false,"ticks":false,"domain":false,"grid":false}},
  "y":{"field":"label","type":"nominal","axis":{"title":".","titleColor":"#7450db","titleFontSize":8,"titlePadding":44,"labels":false,"ticks":false,"grid":false,"domain":true,"domainColor":"#7450db","domainWidth":104,"translate":0}}
 }
},
{
 "width":1323,"height":125,
 "title":{"text":"Error Rate"},
 "data":{"name":"er","format":{"parse":{"t":"utc:'%H:%M'"}}},
 "mark":{"type":"line","strokeWidth":1.5},
 "encoding":{
  "x":{"field":"t","type":"temporal","title":null,"scale":{"type":"utc","domain":[-2208952041000,-2208937661000]},"axis":{"format":"%H:%M","values":[-2208951900000,-2208951000000,-2208950100000,-2208949200000,-2208948300000,-2208947400000,-2208946500000,-2208945600000,-2208944700000,-2208943800000,-2208942900000,-2208942000000,-2208941100000,-2208940200000,-2208939300000,-2208938400000]}},
  "y":{"field":"v","type":"quantitative","title":null,"scale":{"domain":[0,8.77],"nice":false},"axis":{"values":[0,2,4,6,8]}},
  "color":{"datum":"Error Rate","type":"nominal","scale":{"range":["#3a8ee6"]},"legend":{"orient":"none","legendX":-15,"legendY":149,"direction":"horizontal","title":null,"symbolSize":9,"symbolStrokeWidth":7}}
 }
},
{
 "width":1323,"height":125,
 "title":{"text":"Error Count by Type"},
 "data":{"name":"ec","format":{"parse":{"t":"utc:'%H:%M'"}}},
 "mark":{"type":"bar","size":9},
 "encoding":{
  "x":{"field":"t","type":"temporal","title":null,"scale":{"type":"utc","padding":0,"domain":[-2208952041000,-2208937661000]},"axis":{"format":"%H:%M","values":[-2208951900000,-2208951000000,-2208950100000,-2208949200000,-2208948300000,-2208947400000,-2208946500000,-2208945600000,-2208944700000,-2208943800000,-2208942900000,-2208942000000,-2208941100000,-2208940200000,-2208939300000,-2208938400000]}},
  "y":{"field":"n","type":"quantitative","title":null,"stack":"zero","scale":{"domain":[0,2.315],"nice":false},"axis":{"values":[0,0.5,1,1.5,2],"format":"~g"}},
  "color":{"field":"type","type":"nominal","scale":{"domain":["openai.error.apiconnectionerror","openai.error.apierror","openai.error.ratelimiterror","openai.error.timeout"],"range":["#fdbe85","#fd8d3c","#e6550d","#a63603"]},"legend":{"orient":"none","legendX":-26,"legendY":138,"padding":16,"columnPadding":12,"direction":"horizontal","title":null,"symbolSize":100,"symbolStrokeWidth":0}}
 }
},
{
 "width":1323,"height":125,
 "title":{"text":"API response time by model (p95)"},
 "data":{"name":"model","format":{"parse":{"t":"utc:'%H:%M'"}}},
 "transform":[{"fold":["a","b","c","d","g"],"as":["m","v"]}],
 "mark":{"type":"line","strokeWidth":1.5},
 "encoding":{
  "x":{"field":"t","type":"temporal","title":null,"scale":{"type":"utc","domain":[-2208952041000,-2208937661000]},"axis":{"format":"%H:%M","values":[-2208951900000,-2208951000000,-2208950100000,-2208949200000,-2208948300000,-2208947400000,-2208946500000,-2208945600000,-2208944700000,-2208943800000,-2208942900000,-2208942000000,-2208941100000,-2208940200000,-2208939300000,-2208938400000]}},
  "y":{"field":"v","type":"quantitative","scale":{"domain":[0,6.82],"nice":false},"axis":{"values":[0,2,4,6],"title":"Seconds","titleFontSize":9,"titleColor":"#a3a3a3","titleFontWeight":"normal","titlePadding":0,"minExtent":28}},
  "color":{"field":"m","type":"nominal","scale":{"domain":["a","b","c","d","g"],"range":["#3a8ee6","#4a3aa8","#f2c21c","#7eaff2","#a88bf6"]},"legend":{"orient":"none","legendX":-15,"legendY":149,"columnPadding":2,"direction":"horizontal","title":null,"symbolSize":9,"symbolStrokeWidth":7,"labelExpr":"datum.label=='a'?'ada':datum.label=='b'?'babbage':datum.label=='c'?'curie':datum.label=='d'?'davinci':'gpt-3.5-turbo'"}}
 }
},
{
 "width":1323,"height":125,
 "title":{"text":"API response time by service (p95)"},
 "data":{"name":"svc","format":{"parse":{"t":"utc:'%H:%M'"}}},
 "mark":{"type":"line","strokeWidth":1.5},
 "encoding":{
  "x":{"field":"t","type":"temporal","title":null,"scale":{"type":"utc","domain":[-2208952041000,-2208937661000]},"axis":{"format":"%H:%M","values":[-2208951900000,-2208951000000,-2208950100000,-2208949200000,-2208948300000,-2208947400000,-2208946500000,-2208945600000,-2208944700000,-2208943800000,-2208942900000,-2208942000000,-2208941100000,-2208940200000,-2208939300000,-2208938400000]}},
  "y":{"field":"v","type":"quantitative","scale":{"domain":[0,1.168],"nice":false},"axis":{"values":[0,0.5,1],"format":"~g","title":"Seconds","titleFontSize":9,"titleColor":"#a3a3a3","titleFontWeight":"normal","titlePadding":0,"minExtent":28}},
  "color":{"datum":"oai-test-app","type":"nominal","scale":{"range":["#3a8ee6"]},"legend":{"orient":"none","legendX":-15,"legendY":149,"direction":"horizontal","title":null,"symbolSize":9,"symbolStrokeWidth":7}}
 }
},
{
 "width":1323,"height":125,
 "title":{"text":"API response time by organization (p95)","offset":10},
 "data":{"name":"org","format":{"parse":{"t":"utc:'%H:%M'"}}},
 "transform":[{"fold":["ob","op"],"as":["o","v"]}],
 "mark":{"type":"line","strokeWidth":1.5},
 "encoding":{
  "x":{"field":"t","type":"temporal","title":null,"scale":{"type":"utc","domain":[-2208952041000,-2208937661000]},"axis":{"format":"%H:%M","values":[-2208951900000,-2208951000000,-2208950100000,-2208949200000,-2208948300000,-2208947400000,-2208946500000,-2208945600000,-2208944700000,-2208943800000,-2208942900000,-2208942000000,-2208941100000,-2208940200000,-2208939300000,-2208938400000]}},
  "y":{"field":"v","type":"quantitative","scale":{"domain":[0,2.5],"nice":false},"axis":{"values":[0,0.5,1,1.5,2,2.5],"format":"~g","title":"Seconds","titleFontSize":9,"titleColor":"#a3a3a3","titleFontWeight":"normal","titlePadding":0,"minExtent":28}},
  "color":{"field":"o","type":"nominal","scale":{"domain":["ob","op"],"range":["#3a8ee6","#5a42b8"]},"legend":{"orient":"none","legendX":-15,"legendY":149,"columnPadding":2,"direction":"horizontal","title":null,"symbolSize":9,"symbolStrokeWidth":7,"labelExpr":"datum.label=='op'?'datadog-4':''"}}
 }
},
{
 "width":1323,"height":243,
 "title":{"text":"Response Time to Prompt Token Ratio","offset":6},
 "data":{"name":"ratio","format":{"parse":{"t":"utc:'%H:%M'"}}},
 "mark":{"type":"line","strokeWidth":1.5},
 "encoding":{
  "x":{"field":"t","type":"temporal","title":null,"scale":{"type":"utc","domain":[-2208952041000,-2208937661000]},"axis":{"format":"%H:%M","values":[-2208951900000,-2208951000000,-2208950100000,-2208949200000,-2208948300000,-2208947400000,-2208946500000,-2208945600000,-2208944700000,-2208943800000,-2208942900000,-2208942000000,-2208941100000,-2208940200000,-2208939300000,-2208938400000]}},
  "y":{"field":"v","type":"quantitative","title":null,"scale":{"domain":[0,203350000],"nice":false},"axis":{"values":[0,20000000,40000000,60000000,80000000,100000000,120000000,140000000,160000000,180000000,200000000],"labelExpr":"format(datum.value/1000000,'d')+'M'"}},
  "color":{"datum":"Response Time/Prompt Token","type":"nominal","scale":{"range":["#3a8ee6"]},"legend":{"orient":"none","legendX":-15,"legendY":266,"direction":"horizontal","title":null,"symbolSize":9,"symbolStrokeWidth":7}}
 }
}
]
}
